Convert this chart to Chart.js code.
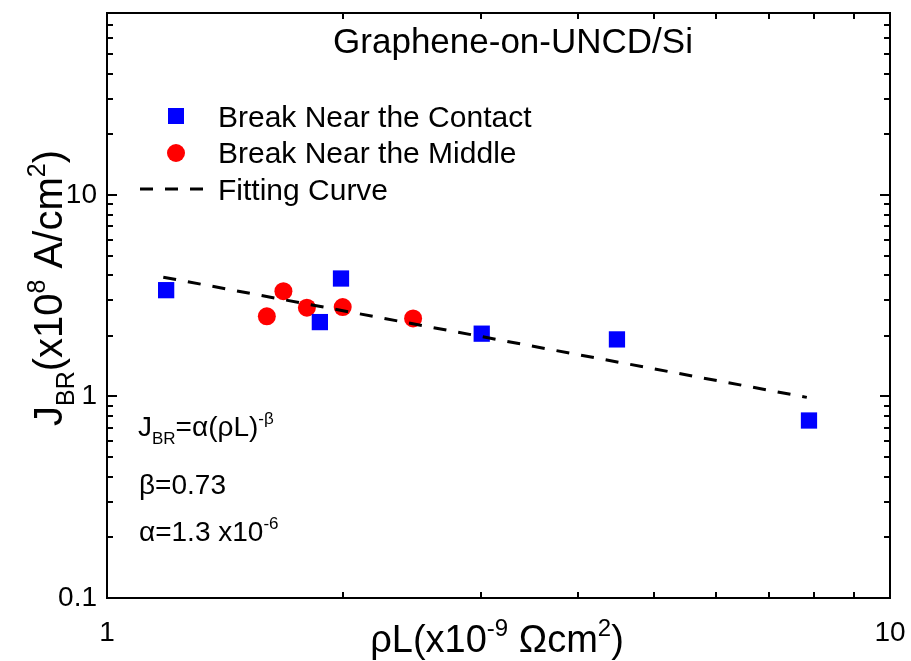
<!DOCTYPE html>
<html>
<head>
<meta charset="utf-8">
<title>Graphene-on-UNCD/Si</title>
<script src="https://cdn.jsdelivr.net/npm/chart.js@4.4.1/dist/chart.umd.min.js"></script>
<style>
  html, body { margin: 0; padding: 0; background: #fff; }
</style>
</head>
<body>
<canvas id="chart" width="911" height="661"></canvas>
<script>
// values (log-log axes)
const contactX = [1.19, 1.87, 1.99, 3.01, 4.48, 7.88];
const contactY = [3.37, 2.34, 3.85, 2.05, 1.92, 0.76];
const middleX = [1.60, 1.68, 1.80, 2.00, 2.46];
const middleY = [2.50, 3.33, 2.76, 2.78, 2.44];
const fitX = [1.18, 7.83];
const fitY = [3.91, 0.99];
const xTickValues = [1, 10];
const yTickValues = [0.1, 1, 10];
const xRange = [1, 10];
const yRange = [0.1, 80];

const FONT = '"Liberation Sans", Arial, sans-serif';

const toPoints = (xs, ys) => xs.map((x, i) => ({ x, y: ys[i] }));

// draws text with sub/superscript pieces; parts = [[text, ''|'sub'|'sup'], ...]
function drawRich(ctx, parts, x, y, size, align) {
  const small = Math.round(size * 0.62);
  let total = 0;
  const items = parts.map(([t, k]) => {
    const fs = k ? small : size;
    ctx.font = `${fs}px ${FONT}`;
    const w = ctx.measureText(t).width;
    total += w;
    return { t, k, fs, w };
  });
  let cx = align === 'center' ? x - total / 2 : x;
  ctx.textAlign = 'left';
  ctx.textBaseline = 'alphabetic';
  ctx.fillStyle = '#000';
  items.forEach(it => {
    ctx.font = `${it.fs}px ${FONT}`;
    const dy = it.k === 'sup' ? -size * 0.42 : (it.k === 'sub' ? size * 0.3 : 0);
    ctx.fillText(it.t, cx, y + dy);
    cx += it.w;
  });
}

const framePlugin = {
  id: 'frame',
  afterDraw(chart) {
    const { ctx, chartArea: a, scales: { x, y } } = chart;
    ctx.save();
    ctx.strokeStyle = '#000';
    ctx.lineWidth = 2;
    ctx.strokeRect(a.left, a.top, a.right - a.left, a.bottom - a.top);

    // inward ticks on all four sides
    ctx.beginPath();
    for (let d = 1; d <= 10; d *= 10) {
      for (let m = 1; m <= 9; m++) {
        const v = m * d;
        if (v < xRange[0] || v > xRange[1]) continue;
        const px = Math.round(x.getPixelForValue(v));
        const len = m === 1 ? 10 : 6;
        ctx.moveTo(px, a.bottom); ctx.lineTo(px, a.bottom - len);
        ctx.moveTo(px, a.top); ctx.lineTo(px, a.top + len);
      }
    }
    for (let d = 0.1; d <= 10; d *= 10) {
      for (let m = 1; m <= 9; m++) {
        const v = m * d;
        if (v < yRange[0] * 0.999 || v > yRange[1] * 1.001) continue;
        const py = Math.round(y.getPixelForValue(v));
        const len = m === 1 ? 10 : 6;
        ctx.moveTo(a.left, py); ctx.lineTo(a.left + len, py);
        ctx.moveTo(a.right, py); ctx.lineTo(a.right - len, py);
      }
    }
    ctx.stroke();

    // title inside the frame
    drawRich(ctx, [['Graphene-on-UNCD/Si', '']], 513, 53, 35, 'center');

    // legend
    ctx.fillStyle = '#0000ff';
    ctx.fillRect(168, 108, 16, 16);
    ctx.fillStyle = '#ff0000';
    ctx.beginPath(); ctx.arc(176, 153, 9, 0, Math.PI * 2); ctx.fill();
    ctx.strokeStyle = '#000';
    ctx.lineWidth = 3;
    ctx.setLineDash([13, 12]);
    ctx.beginPath(); ctx.moveTo(140, 189); ctx.lineTo(205, 189); ctx.stroke();
    ctx.setLineDash([]);
    drawRich(ctx, [['Break Near the Contact', '']], 218, 127, 30, 'left');
    drawRich(ctx, [['Break Near the Middle', '']], 218, 163, 30, 'left');
    drawRich(ctx, [['Fitting Curve', '']], 218, 200, 30, 'left');

    // fit annotation
    drawRich(ctx, [['J', ''], ['BR', 'sub'], ['=\u03b1(\u03c1L)', ''], ['-\u03b2', 'sup']], 138, 436, 28, 'left');
    drawRich(ctx, [['\u03b2=0.73', '']], 139, 494, 28, 'left');
    drawRich(ctx, [['\u03b1=1.3 x10', ''], ['-6', 'sup']], 139, 541, 28, 'left');

    // axis titles
    drawRich(ctx, [['\u03c1L(x10', ''], ['-9', 'sup'], [' \u03a9cm', ''], ['2', 'sup'], [')', '']], 497, 652, 38, 'center');
    ctx.translate(62, 288);
    ctx.rotate(-Math.PI / 2);
    drawRich(ctx, [['J', ''], ['BR', 'sub'], ['(x10', ''], ['8', 'sup'], [' A/cm', ''], ['2', 'sup'], [')', '']], 0, 0, 40, 'center');
    ctx.restore();
  }
};

new Chart(document.getElementById('chart').getContext('2d'), {
  type: 'scatter',
  data: {
    datasets: [
      {
        label: 'Fitting Curve',
        data: toPoints(fitX, fitY),
        showLine: true,
        borderColor: '#000',
        borderWidth: 3,
        borderDash: [13, 12],
        pointRadius: 0,
        fill: false,
        order: 0
      },
      {
        label: 'Break Near the Contact',
        data: toPoints(contactX, contactY),
        pointStyle: 'rect',
        pointRadius: 11.5,
        backgroundColor: '#0000ff',
        borderColor: '#0000ff',
        borderWidth: 0,
        order: 1
      },
      {
        label: 'Break Near the Middle',
        data: toPoints(middleX, middleY),
        pointStyle: 'circle',
        pointRadius: 9,
        backgroundColor: '#ff0000',
        borderColor: '#ff0000',
        borderWidth: 0,
        order: 2
      }
    ]
  },
  options: {
    responsive: false,
    devicePixelRatio: 1,
    animation: false,
    layout: { padding: { top: 13, right: 21, left: 0, bottom: 0 } },
    plugins: { legend: { display: false }, tooltip: { enabled: false } },
    scales: {
      x: {
        type: 'logarithmic',
        min: xRange[0],
        max: xRange[1],
        afterBuildTicks: s => { s.ticks = xTickValues.map(v => ({ value: v })); },
        afterFit: s => { s.height = 63; s.paddingLeft = 0; s.paddingRight = 0; },
        grid: { display: false, drawTicks: false },
        border: { display: false },
        ticks: {
          font: { family: FONT, size: 28 },
          color: '#000',
          padding: 18,
          maxRotation: 0,
          autoSkip: false,
          callback: v => String(v)
        }
      },
      y: {
        type: 'logarithmic',
        min: yRange[0],
        max: yRange[1],
        afterBuildTicks: s => { s.ticks = yTickValues.map(v => ({ value: v })); },
        afterFit: s => { s.width = 107; s.paddingTop = 0; s.paddingBottom = 0; },
        grid: { display: false, drawTicks: false },
        border: { display: false },
        ticks: {
          font: { family: FONT, size: 28 },
          color: '#000',
          padding: 10,
          autoSkip: false,
          callback: v => String(v)
        }
      }
    }
  },
  plugins: [framePlugin]
});
</script>
</body>
</html>
